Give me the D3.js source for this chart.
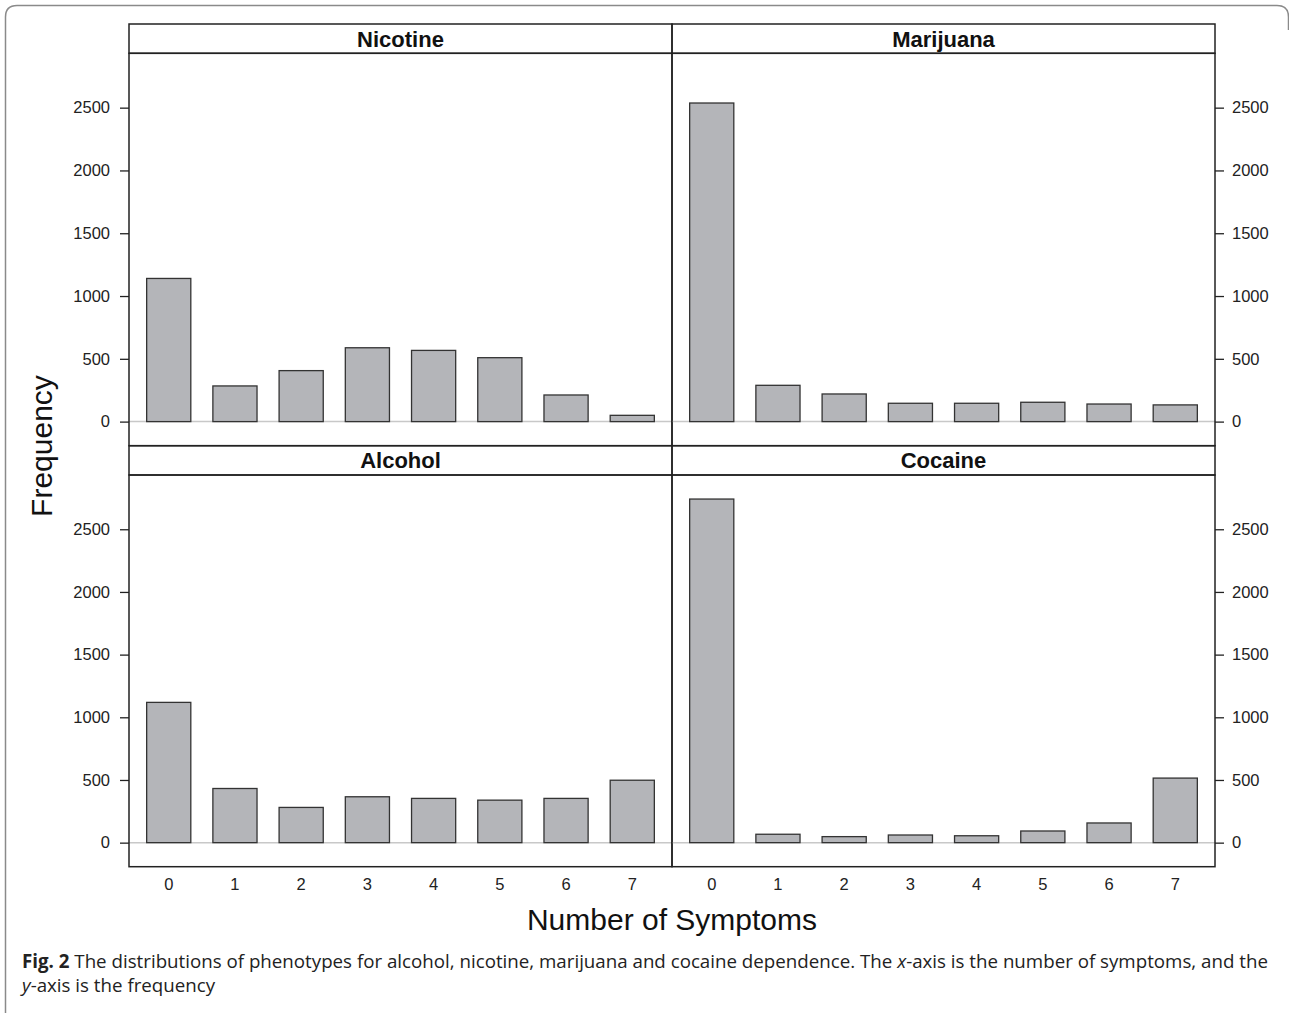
<!DOCTYPE html>
<html>
<head>
<meta charset="utf-8">
<script src="https://cdn.jsdelivr.net/npm/d3@7"></script>
<style>
  body { margin: 0; background: #fff; }
  svg { display: block; }
</style>
</head>
<body>
<svg id="chart" width="1289" height="1013"></svg>
<script>
// values
const symptoms = [0, 1, 2, 3, 4, 5, 6, 7];
const nicotine = [1140, 284, 406, 588, 567, 509, 212, 50];
const marijuana = [2537, 289, 220, 146, 146, 154, 140, 133];
const alcohol = [1119, 432, 281, 366, 353, 339, 353, 498];
const cocaine = [2741, 67, 48, 61, 55, 93, 157, 515];
const yTicks = [0, 500, 1000, 1500, 2000, 2500];

const panels = [
  { name: "Nicotine", values: nicotine, col: 0, row: 0 },
  { name: "Marijuana", values: marijuana, col: 1, row: 0 },
  { name: "Alcohol", values: alcohol, col: 0, row: 1 },
  { name: "Cocaine", values: cocaine, col: 1, row: 1 }
];

const svg = d3.select("#chart");
const font = "'Liberation Sans', Arial, sans-serif";

// outer figure frame (rounded top corners)
svg.append("path")
  .attr("d", "M5.5,1013 L5.5,17 Q5.5,5.5 17,5.5 L1277,5.5 Q1288.5,5.5 1288.5,17 L1288.5,30")
  .attr("fill", "none")
  .attr("stroke", "#8a8a8a")
  .attr("stroke-width", 1.5);

// panel layout
const colX = [129, 672, 1215];
const stripH = 29.3;
const rowTop = [24, 445.7];
const rowBottom = [445.7, 866.7];

const maxV = d3.max([nicotine, marijuana, alcohol, cocaine].flat());

panels.forEach(p => {
  const x0 = colX[p.col], x1 = colX[p.col + 1];
  const top = rowTop[p.row], plotTop = top + stripH, bottom = rowBottom[p.row];

  const x = d3.scaleBand()
    .domain(symptoms)
    .range([x0, x1])
    .paddingInner(1 / 3)
    .paddingOuter(0.2667);

  const y = d3.scaleLinear()
    .domain([-0.07 * maxV, 1.07 * maxV])
    .range([bottom, plotTop]);

  const g = svg.append("g");

  // zero reference line
  g.append("line")
    .attr("x1", x0).attr("x2", x1)
    .attr("y1", y(0)).attr("y2", y(0))
    .attr("stroke", "#c8c8c8")
    .attr("stroke-width", 1.5);

  // bars
  g.selectAll("rect.bar")
    .data(p.values)
    .enter().append("rect")
    .attr("class", "bar")
    .attr("x", (d, i) => x(symptoms[i]))
    .attr("width", x.bandwidth())
    .attr("y", d => y(d))
    .attr("height", d => y(0) - y(d))
    .attr("fill", "#b4b5b9")
    .attr("stroke", "#333")
    .attr("stroke-width", 1.3);

  // strip
  g.append("rect")
    .attr("x", x0).attr("y", top)
    .attr("width", x1 - x0).attr("height", stripH)
    .attr("fill", "none")
    .attr("stroke", "#222")
    .attr("stroke-width", 1.5);

  g.append("text")
    .attr("x", (x0 + x1) / 2)
    .attr("y", top + stripH / 2 + 8)
    .attr("text-anchor", "middle")
    .style("font-family", font)
    .style("font-weight", "bold")
    .style("font-size", "22px")
    .attr("fill", "#111")
    .text(p.name);

  // panel border
  g.append("rect")
    .attr("x", x0).attr("y", plotTop)
    .attr("width", x1 - x0).attr("height", bottom - plotTop)
    .attr("fill", "none")
    .attr("stroke", "#222")
    .attr("stroke-width", 1.5);

  // y axis: left column on the left, right column on the right
  const axis = p.col === 0
    ? d3.axisLeft(y).tickValues(yTicks).tickFormat(d3.format("d")).tickSize(9).tickPadding(10)
    : d3.axisRight(y).tickValues(yTicks).tickFormat(d3.format("d")).tickSize(9).tickPadding(8);
  const ax = g.append("g")
    .attr("transform", `translate(${p.col === 0 ? x0 : x1},0)`)
    .call(axis);
  ax.select(".domain").remove();
  ax.selectAll("line").attr("stroke", "#222").attr("stroke-width", 1.3);
  ax.selectAll("text")
    .style("font-family", font)
    .style("font-size", "16.5px")
    .attr("fill", "#222");

  // x labels only under bottom row
  if (p.row === 1) {
    const xa = g.append("g")
      .attr("transform", `translate(0,${bottom})`)
      .call(d3.axisBottom(x).tickSize(0).tickPadding(12));
    xa.select(".domain").remove();
    xa.selectAll("text")
      .style("font-family", font)
      .style("font-size", "16.5px")
      .attr("fill", "#222");
  }
});

// axis titles
svg.append("text")
  .attr("transform", "translate(52,446) rotate(-90)")
  .attr("text-anchor", "middle")
  .style("font-family", font)
  .style("font-size", "30px")
  .attr("fill", "#111")
  .text("Frequency");

svg.append("text")
  .attr("x", 672).attr("y", 930)
  .attr("text-anchor", "middle")
  .style("font-family", font)
  .style("font-size", "30px")
  .attr("fill", "#111")
  .text("Number of Symptoms");

// caption
const capFont = "'Open Sans', 'Noto Sans', sans-serif";
const cap1 = svg.append("text")
  .attr("x", 22).attr("y", 968)
  .style("font-family", capFont)
  .style("font-size", "17px")
  .attr("fill", "#222");
cap1.append("tspan").style("font-weight", "bold").text("Fig. 2");
cap1.append("tspan").text(" The distributions of phenotypes for alcohol, nicotine, marijuana and cocaine dependence. The ");
cap1.append("tspan").style("font-style", "italic").text("x");
cap1.append("tspan").text("-axis is the number of symptoms, and the");

const cap2 = svg.append("text")
  .attr("x", 22).attr("y", 992)
  .style("font-family", capFont)
  .style("font-size", "17px")
  .attr("fill", "#222");
cap2.append("tspan").style("font-style", "italic").text("y");
cap2.append("tspan").text("-axis is the frequency");

// squeeze caption line 1 to the figure's width
const w1 = cap1.node().getComputedTextLength();
const target = 1247;
if (w1 > 0) {
  const fs = 17 * target / w1;
  cap1.style("font-size", fs + "px");
  cap2.style("font-size", fs + "px");
}
</script>
</body>
</html>
